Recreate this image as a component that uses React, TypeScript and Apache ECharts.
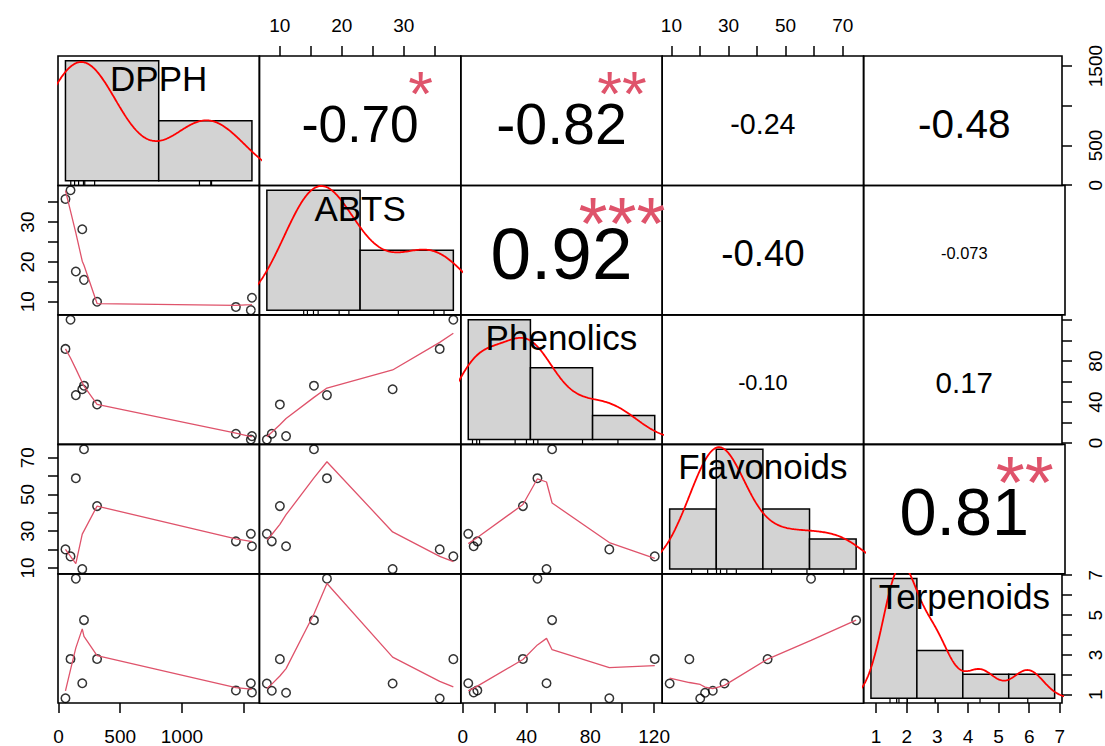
import React, { useEffect, useRef } from "react";
import * as echarts from "echarts";

// ---------- data ----------
const varNames = ["DPPH", "ABTS", "Phenolics", "Flavonoids", "Terpenoids"];
const DPPH = [57, 98, 141, 193, 207, 313, 1437, 1558, 1567];
const ABTS = [35.8, 38.0, 17.6, 28.2, 15.5, 10.0, 8.7, 7.9, 11.0];
const Phenolics = [91.9, 120.4, 46.8, 52.5, 56.0, 37.7, 9.1, 3.4, 6.8];
const Flavonoids = [20.1, 16.3, 58.9, 9.4, 74.7, 43.7, 24.5, 28.6, 21.8];
const Terpenoids = [0.83, 2.8, 6.83, 1.58, 4.75, 2.8, 1.22, 1.58, 1.12];
const variables = [DPPH, ABTS, Phenolics, Flavonoids, Terpenoids];

// smoothed (lowess) Phenolics values against DPPH, per sample
const smoothPhenolicsOnDPPH = [91.9, 83.0, 72.4, 59.2, 55.7, 37.7, 9.6, 6.4, 6.2];

// histogram break points of each variable
const histBreaks = [
  [0, 1000, 2000],
  [0, 20, 40],
  [0, 50, 100, 150],
  [0, 20, 40, 60, 80],
  [0, 2, 4, 6, 8],
];

// outer axis ticks and the labels that are printed
const axisTicks = [
  [0, 500, 1000, 1500],
  [10, 15, 20, 25, 30, 35],
  [0, 20, 40, 60, 80, 100, 120],
  [10, 20, 30, 40, 50, 60, 70],
  [1, 2, 3, 4, 5, 6, 7],
];
const horizLabels = [
  [0, 500, 1000],
  [10, 20, 30],
  [0, 40, 80, 120],
  [10, 30, 50, 70],
  [1, 2, 3, 4, 5, 6, 7],
];
const vertLabels = [
  [0, 500, 1500],
  [10, 20, 30],
  [0, 40, 80],
  [10, 30, 50, 70],
  [1, 3, 5, 7],
];

// correlation panels (upper triangle, row-major)
const corText = ["-0.70", "-0.82", "-0.24", "-0.48", "0.92", "-0.40", "-0.073", "-0.10", "0.17", "0.81"];
const corValue = [-0.7, -0.82, -0.24, -0.48, 0.92, -0.4, -0.073, -0.1, 0.17, 0.81];
const corStars = ["*", "**", "", "", "***", "", "", "", "", "**"];

// ---------- layout ----------
const L = 58;
const T = 56;
const PW = 201.4;
const PH = 129.46;
const FONT = "Liberation Sans";

// ---------- helpers ----------
function emWidth(s: string) {
  let w = 0;
  for (const ch of s) {
    if (ch === ".") w += 0.278;
    else if (ch === "-") w += 0.333;
    else if (ch === "*") w += 0.389;
    else w += 0.556;
  }
  return w;
}

function extRange(v: number[]): [number, number] {
  const mn = Math.min(...v);
  const mx = Math.max(...v);
  const d = mx - mn;
  return [mn - 0.04 * d, mx + 0.04 * d];
}

function quantile7(v: number[], p: number) {
  const s = [...v].sort((a, b) => a - b);
  const h = (s.length - 1) * p;
  const lo = Math.floor(h);
  const hi = Math.ceil(h);
  return s[lo] + (h - lo) * (s[hi] - s[lo]);
}

function kde(v: number[]): [number, number][] {
  const n = v.length;
  const mean = v.reduce((a, b) => a + b, 0) / n;
  const sd = Math.sqrt(v.reduce((a, b) => a + (b - mean) * (b - mean), 0) / (n - 1));
  const iqr = quantile7(v, 0.75) - quantile7(v, 0.25);
  let lo = Math.min(sd, iqr / 1.34);
  if (!(lo > 0)) lo = sd || 1;
  const bw = 0.9 * lo * Math.pow(n, -0.2);
  const from = Math.min(...v) - 3 * bw;
  const to = Math.max(...v) + 3 * bw;
  const out: [number, number][] = [];
  const m = 512;
  for (let k = 0; k < m; k++) {
    const t = from + ((to - from) * k) / (m - 1);
    let s = 0;
    for (const xi of v) {
      const z = (t - xi) / bw;
      s += Math.exp(-0.5 * z * z) / Math.sqrt(2 * Math.PI);
    }
    out.push([t, s / (n * bw)]);
  }
  return out;
}

function histBins(v: number[], br: number[]) {
  const n = v.length;
  const bins: [number, number, number][] = [];
  for (let k = 0; k < br.length - 1; k++) {
    const a = br[k];
    const b = br[k + 1];
    const cnt = v.filter((x) => (k === 0 ? x >= a : x > a) && x <= b).length;
    bins.push([a, b, cnt / (n * (b - a))]);
  }
  return bins;
}

// R's clowess
function lowess(xIn: number[], yIn: number[], f = 2 / 3, nsteps = 3): [number, number][] {
  const n = xIn.length;
  const order = xIn.map((_, i) => i).sort((a, b) => xIn[a] - xIn[b] || a - b);
  const x = order.map((i) => xIn[i]);
  const y = order.map((i) => yIn[i]);
  const delta = 0.01 * (x[n - 1] - x[0]);
  const ys = new Array(n).fill(0);
  const rw = new Array(n).fill(0);
  const res = new Array(n).fill(0);
  const ns = Math.max(2, Math.min(n, Math.floor(f * n + 1e-7)));
  const range = x[n - 1] - x[0];

  const lowest = (xs: number, nleft: number, nright: number, userw: boolean): number | null => {
    const h = Math.max(xs - x[nleft], x[nright] - xs);
    const h9 = 0.999 * h;
    const h1 = 0.001 * h;
    let a = 0;
    let j = nleft;
    while (j < n) {
      res[j] = 0;
      const r = Math.abs(x[j] - xs);
      if (r <= h9) {
        if (r <= h1) res[j] = 1;
        else res[j] = Math.pow(1 - Math.pow(r / h, 3), 3);
        if (userw) res[j] *= rw[j];
        a += res[j];
      } else if (x[j] > xs) break;
      j++;
    }
    const nrt = j - 1;
    if (a <= 0) return null;
    for (j = nleft; j <= nrt; j++) res[j] /= a;
    if (h > 0) {
      a = 0;
      for (j = nleft; j <= nrt; j++) a += res[j] * x[j];
      let b = xs - a;
      let c = 0;
      for (j = nleft; j <= nrt; j++) c += res[j] * (x[j] - a) * (x[j] - a);
      if (Math.sqrt(c) > 0.001 * range) {
        b /= c;
        for (j = nleft; j <= nrt; j++) res[j] *= b * (x[j] - a) + 1;
      }
    }
    let out = 0;
    for (j = nleft; j <= nrt; j++) out += res[j] * y[j];
    return out;
  };

  let iter = 1;
  while (iter <= nsteps + 1) {
    let nleft = 0;
    let nright = ns - 1;
    let last = -1;
    let i = 0;
    for (;;) {
      if (nright < n - 1) {
        const d1 = x[i] - x[nleft];
        const d2 = x[nright + 1] - x[i];
        if (d1 > d2) {
          nleft++;
          nright++;
          continue;
        }
      }
      const v = lowest(x[i], nleft, nright, iter > 1);
      ys[i] = v === null ? y[i] : v;
      if (last < i - 1) {
        const denom = x[i] - x[last];
        for (let j = last + 1; j < i; j++) {
          const alpha = (x[j] - x[last]) / denom;
          ys[j] = alpha * ys[i] + (1 - alpha) * ys[last];
        }
      }
      last = i;
      const cut = x[last] + delta;
      for (i = last + 1; i < n; i++) {
        if (x[i] > cut) break;
        if (x[i] === x[last]) {
          ys[i] = ys[last];
          last = i;
        }
      }
      i = Math.max(last + 1, i - 1);
      if (last >= n - 1) break;
    }
    for (let k = 0; k < n; k++) res[k] = y[k] - ys[k];
    let sc = 0;
    for (let k = 0; k < n; k++) sc += Math.abs(res[k]);
    sc /= n;
    if (iter > nsteps) break;
    const absr = res.map((r) => Math.abs(r));
    const sorted = [...absr].sort((a, b) => a - b);
    const m1 = Math.floor(n / 2);
    let cmad: number;
    if (n % 2 === 0) {
      const m2 = n - m1 - 1;
      cmad = 3 * (sorted[m1] + sorted[m2]);
    } else cmad = 6 * sorted[m1];
    if (cmad < 1e-7 * sc) break;
    const c9 = 0.999 * cmad;
    const c1 = 0.001 * cmad;
    for (let k = 0; k < n; k++) {
      const r = absr[k];
      if (r <= c1) rw[k] = 1;
      else if (r <= c9) rw[k] = Math.pow(1 - Math.pow(r / cmad, 2), 2);
      else rw[k] = 0;
    }
    iter++;
  }
  return x.map((xv, k) => [xv, ys[k]] as [number, number]);
}

function smoothLine(r: number, c: number): [number, number][] {
  if (r === 2 && c === 0) {
    const pts = DPPH.map((v, i) => [v, smoothPhenolicsOnDPPH[i]] as [number, number]);
    return pts.sort((a, b) => a[0] - b[0]);
  }
  return lowess(variables[c], variables[r]);
}

function buildOption() {
  const N = variables.length;
  const grids: any[] = [];
  const xAxes: any[] = [];
  const yAxes: any[] = [];
  const series: any[] = [];
  const graphics: any[] = [];

  const histInfo = variables.map((v, i) => {
    const bins = histBins(v, histBreaks[i]);
    const maxD = Math.max(...bins.map((b) => b[2]));
    const br = histBreaks[i];
    const b0 = br[0];
    const bN = br[br.length - 1];
    const d = bN - b0;
    return {
      bins,
      xr: [b0 - 0.04 * d, bN + 0.04 * d],
      yr: [-0.04 * maxD, 1.04 * maxD],
    };
  });
  const ranges = variables.map((v) => extRange(v));

  for (let r = 0; r < N; r++) {
    for (let c = 0; c < N; c++) {
      const g = r * N + c;
      grids.push({
        left: L + c * PW,
        top: T + r * PH,
        width: PW,
        height: PH,
        show: true,
        borderColor: "#000",
        borderWidth: 1.6,
        backgroundColor: "rgba(0,0,0,0)",
      });
      let xr: number[];
      let yr: number[];
      if (r === c) {
        xr = histInfo[r].xr;
        yr = histInfo[r].yr;
      } else {
        xr = ranges[c];
        yr = ranges[r];
      }
      xAxes.push({ gridIndex: g, type: "value", min: xr[0], max: xr[1], show: false });
      yAxes.push({ gridIndex: g, type: "value", min: yr[0], max: yr[1], show: false });

      if (r === c) {
        const info = histInfo[r];
        series.push({
          type: "custom",
          xAxisIndex: g,
          yAxisIndex: g,
          data: info.bins,
          encode: { x: [0, 1], y: 2 },
          z: 2,
          renderItem: (params: any, api: any) => {
            const p0 = api.coord([api.value(0), api.value(2)]);
            const p1 = api.coord([api.value(1), 0]);
            return {
              type: "rect",
              shape: { x: p0[0], y: p0[1], width: p1[0] - p0[0], height: p1[1] - p0[1] },
              style: { fill: "#D3D3D3", stroke: "#000", lineWidth: 1.5 },
            };
          },
        });
        series.push({
          type: "line",
          xAxisIndex: g,
          yAxisIndex: g,
          data: kde(variables[r]),
          showSymbol: false,
          symbol: "none",
          clip: true,
          z: 3,
          lineStyle: { color: "#FF0000", width: 1.8 },
        });
        series.push({
          type: "custom",
          xAxisIndex: g,
          yAxisIndex: g,
          data: variables[r].map((v) => [v, info.yr[0]]),
          encode: { x: 0, y: 1 },
          z: 3,
          renderItem: (params: any, api: any) => {
            const p = api.coord([api.value(0), api.value(1)]);
            return {
              type: "line",
              shape: { x1: p[0], y1: p[1], x2: p[0], y2: p[1] - 4.5 },
              style: { stroke: "#000", lineWidth: 1.2 },
            };
          },
        });
        graphics.push({
          type: "text",
          z: 100,
          style: {
            text: varNames[r],
            x: L + c * PW + PW / 2,
            y: T + (r + 1) * PH - 0.833 * PH + 1,
            fontSize: 35,
            fontFamily: FONT,
            fill: "#000",
            align: "center",
            verticalAlign: "middle",
          },
        });
      } else if (r > c) {
        const pts = variables[c].map((v, i) => [v, variables[r][i]]);
        series.push({
          type: "scatter",
          xAxisIndex: g,
          yAxisIndex: g,
          data: pts,
          symbol: "circle",
          symbolSize: 8.5,
          z: 3,
          itemStyle: { color: "rgba(0,0,0,0)", borderColor: "#000", borderWidth: 1.5 },
        });
        series.push({
          type: "line",
          xAxisIndex: g,
          yAxisIndex: g,
          data: smoothLine(r, c),
          showSymbol: false,
          symbol: "none",
          z: 4,
          lineStyle: { color: "#DF536B", width: 1.3 },
        });
      }
    }
  }

  // correlation texts
  let k = 0;
  for (let r = 0; r < N; r++) {
    for (let c = r + 1; c < N; c++) {
      const txt = corText[k];
      const absr = Math.abs(corValue[k]);
      const fs = (PW * (0.19 + 0.56 * absr)) / emWidth(txt);
      const left = L + c * PW;
      const top = T + r * PH;
      graphics.push({
        type: "text",
        z: 100,
        style: {
          text: txt,
          x: left + PW / 2,
          y: top + PH / 2 + 3,
          fontSize: fs,
          fontFamily: FONT,
          fill: "#000",
          align: "center",
          verticalAlign: "middle",
        },
      });
      if (corStars[k]) {
        const sfs = (0.72 * PW) / emWidth(txt);
        graphics.push({
          type: "text",
          z: 101,
          style: {
            text: corStars[k],
            x: left + 0.8 * PW,
            y: top + 0.2 * PH + 4.5 + 0.1 * sfs,
            fontSize: sfs,
            fontFamily: FONT,
            fill: "#DF536B",
            align: "center",
            verticalAlign: "middle",
          },
        });
      }
      k++;
    }
  }

  // outer display axes
  const tickStyle = { show: true, inside: false, length: 10, lineStyle: { color: "#000", width: 1.5 } };
  const labelBase = { show: true, fontSize: 19, fontFamily: FONT, color: "#000", margin: 24, formatter: (v: number) => String(v) };
  for (let i = 0; i < N; i++) {
    const horizOnTop = i % 2 === 1;
    const gx = horizOnTop ? i : (N - 1) * N + i;
    xAxes.push({
      gridIndex: gx,
      type: "value",
      min: ranges[i][0],
      max: ranges[i][1],
      position: horizOnTop ? "top" : "bottom",
      axisLine: { show: false },
      splitLine: { show: false },
      axisTick: { ...tickStyle, customValues: axisTicks[i] },
      axisLabel: { ...labelBase, margin: horizOnTop ? 21 : 24, customValues: horizLabels[i] },
    });
    const vertOnLeft = i % 2 === 1;
    const gy = vertOnLeft ? i * N : i * N + (N - 1);
    yAxes.push({
      gridIndex: gy,
      type: "value",
      min: ranges[i][0],
      max: ranges[i][1],
      position: vertOnLeft ? "left" : "right",
      axisLine: { show: false },
      splitLine: { show: false },
      axisTick: { ...tickStyle, customValues: axisTicks[i] },
      axisLabel: { ...labelBase, margin: vertOnLeft ? 21 : 24, rotate: 90, customValues: vertLabels[i] },
    });
  }

  return {
    animation: false,
    backgroundColor: "#fff",
    textStyle: { fontFamily: FONT },
    grid: grids,
    xAxis: xAxes,
    yAxis: yAxes,
    series,
    graphic: { elements: graphics },
  };
}

export default function App() {
  const ref = useRef<HTMLDivElement>(null);
  useEffect(() => {
    if (!ref.current) return;
    const chart = echarts.init(ref.current, undefined, { renderer: "svg" });
    chart.setOption(buildOption() as any);
    return () => chart.dispose();
  }, []);
  return (
    <div
      ref={ref}
      style={{ position: "absolute", left: 0, top: 0, width: 1105, height: 746, background: "#fff" }}
    />
  );
}
